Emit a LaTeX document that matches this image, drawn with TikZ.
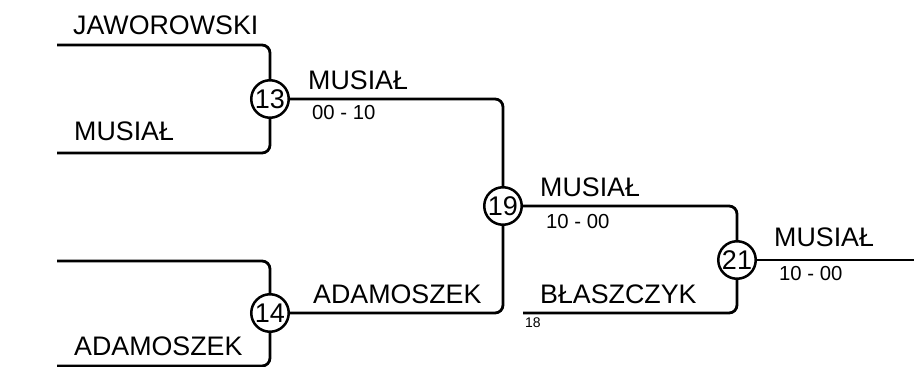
\documentclass[tikz,border=0pt]{standalone}
\usepackage{fontspec}
\setmainfont{Liberation Sans}
\usetikzlibrary{positioning, calc}

\begin{document}
\begin{tikzpicture}[x=1pt, y=-1pt,
    matchnode/.style={circle, draw=black, line width=2.5pt, fill=white, inner sep=0pt,
      minimum size=37.5pt, font=\fontsize{27}{27}\selectfont},
    bracketline/.style={line width=2.8pt, black, rounded corners=8pt},
    namelabel/.style={anchor=base west, inner sep=0pt, font=\fontsize{26.8}{27}\selectfont},
    scorelabel/.style={anchor=base west, inner sep=0pt, font=\fontsize{20.3}{21}\selectfont},
    seedlabel/.style={anchor=base west, inner sep=0pt, font=\fontsize{14}{14}\selectfont}]
    \useasboundingbox (0,0) rectangle (914,367);
    % free ends of the first round
    \coordinate (jaw) at (57,45);
    \coordinate (mus) at (57,153);
    \coordinate (emp) at (57,261);
    \coordinate (ada) at (57,366);
    \coordinate (bla) at (523,313);
    \coordinate (fin) at (914,260);
    % lines
    \draw[bracketline] (jaw) -| (270,99);
    \draw[bracketline] (mus) -| (270,99);
    \draw[bracketline] (emp) -| (270,313);
    \draw[bracketline] (ada) -| (270,313);
    \draw[bracketline] (270,99) -| (503,206);
    \draw[bracketline] (270,313) -| (503,206);
    \draw[bracketline] (503,206) -| (737,260);
    \draw[bracketline] (bla) -| (737,260);
    \draw[bracketline] (737,260) -- (fin);
    % matches
    \node[matchnode] (m13) at (270,99) {13};
    \node[matchnode] (m14) at (270,313) {14};
    \node[matchnode] (m19) at (503,206) {19};
    \node[matchnode] (m21) at (737,260) {21};
    % names and scores
    \node[namelabel] (n1) at (73,34) {JAWOROWSKI};
    \node[namelabel] (n2) at (74,140) {MUSIAŁ};
    \node[namelabel] (n3) at (74,355) {ADAMOSZEK};
    \node[namelabel] (w13) at (308,89) {MUSIAŁ};
    \node[scorelabel] (s13) at (312,119) {00 - 10};
    \node[namelabel] (w14) at (313,303) {ADAMOSZEK};
    \node[namelabel] (w19) at (540,196) {MUSIAŁ};
    \node[scorelabel] (s19) at (546,228) {10 - 00};
    \node[namelabel] (n4) at (540,303) {BŁASZCZYK};
    \node[seedlabel] (sd) at (525,327) {18};
    \node[namelabel] (w21) at (774,246) {MUSIAŁ};
    \node[scorelabel] (s21) at (779,280) {10 - 00};
\end{tikzpicture}
\end{document}
